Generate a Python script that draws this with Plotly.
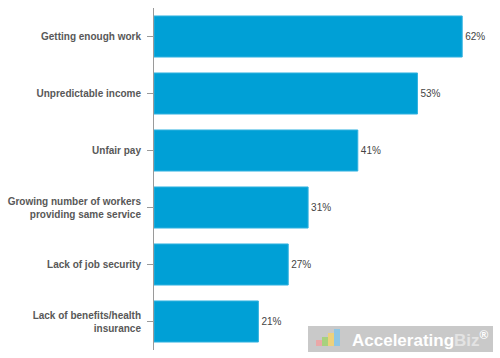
import plotly.graph_objects as go

categories = [
    "Getting enough work",
    "Unpredictable income",
    "Unfair pay",
    "Growing number of workers<br>providing same service",
    "Lack of job security",
    "Lack of benefits/health<br>insurance",
]
values = [62, 53, 41, 31, 27, 21]
value_labels = [f"{v}%" for v in values]

fig = go.Figure(
    go.Bar(
        x=values,
        y=categories,
        orientation="h",
        marker=dict(color="#00A0D6", line=dict(color="#33B3E0", width=1)),
        width=0.72,
        text=value_labels,
        textposition="outside",
        textfont=dict(family="Liberation Sans, Arial, sans-serif", size=10, color="#444444"),
        cliponaxis=False,
    )
)

fig.update_layout(
    width=500,
    height=358,
    margin=dict(l=154, r=3, t=8, b=8, autoexpand=False),
    plot_bgcolor="white",
    paper_bgcolor="white",
    showlegend=False,
    xaxis=dict(range=[0, 69], visible=False, fixedrange=True),
    yaxis=dict(
        autorange="reversed",
        automargin=False,
        showline=True,
        linecolor="#9a9a9a",
        linewidth=1,
        ticks="outside",
        ticklen=6,
        tickcolor="#9a9a9a",
        tickfont=dict(family="Liberation Sans, Arial, sans-serif", size=10, color="#585858", weight="bold"),
        showgrid=False,
        ticklabelstandoff=4,
    ),
)

# watermark box
fig.add_shape(type="rect", xref="paper", yref="paper",
              x0=(308 - 154) / 343, x1=(493 - 154) / 343,
              y0=(358 - 352 - 8) / 342, y1=(358 - 326 - 8) / 342,
              fillcolor="#c9c9c9", line=dict(width=0), layer="above")
# icon bars
icon = [(316, 322, 346, 340, "#f2a0a0"), (322, 328, 346, 337, "#9fd36b"), (328, 334, 346, 333, "#f5d36a"), (334, 340, 346, 329, "#7fc6ec")]
for x0, x1, yb, yt, c in icon:
    fig.add_shape(type="rect", xref="paper", yref="paper",
                  x0=(x0 - 154) / 343, x1=(x1 - 154) / 343,
                  y0=(358 - yb - 8) / 342, y1=(358 - yt - 8) / 342,
                  fillcolor=c, line=dict(width=0), layer="above", opacity=0.8)
fig.add_annotation(xref="paper", yref="paper",
                   x=(491 - 154) / 343, y=(358 - 339 - 8) / 342,
                   xanchor="right", yanchor="middle", showarrow=False,
                   text="Accelerating<span style='color:#e3e3e3'>Biz</span><sup>®</sup>",
                   font=dict(family="Liberation Sans, Arial, sans-serif", size=17, color="white", weight="bold"))

fig.write_html("out.html", config={"displayModeBar": False},
               post_script="document.body.style.margin='0';document.body.style.overflow='hidden';")
